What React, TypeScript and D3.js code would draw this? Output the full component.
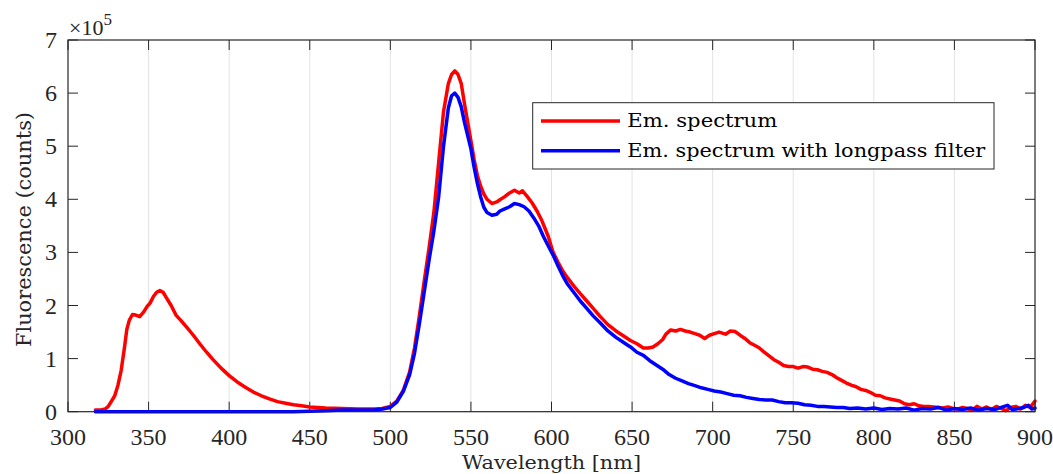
import React from "react";
import * as d3 from "d3";

// Emission spectrum (units of 1e5 counts)
const redWavelength = [
  317, 320, 323, 325, 327, 329, 331, 333, 335, 336.5, 338, 340, 342, 344.5, 347, 349, 351, 353, 355, 357,
  359, 361, 364, 367, 370, 374, 378, 382, 386, 390, 395, 400, 405, 410, 415, 420, 425, 430, 435, 440,
  445, 450, 455, 460, 470, 480, 490, 495, 500, 504, 508, 512, 515, 518, 521, 524, 527, 530, 533, 536,
  538, 540, 542, 544, 546, 548, 550, 552, 554, 556, 558, 560, 563, 566, 568, 571, 574, 577, 580, 582,
  585, 588, 591, 594, 596, 598, 601, 604, 607, 610, 614, 618, 622, 626, 630, 635, 640, 645, 649, 653,
  657, 660, 663, 666, 669, 671, 674, 677, 680, 683, 686, 689, 692, 695, 698, 701, 704, 708, 711, 714,
  717, 720, 723, 726, 729, 732, 735, 738, 741, 744, 747, 750, 753, 756, 759, 762, 765, 768, 771, 774,
  777, 780, 783, 786, 789, 792, 795, 798, 801, 804, 807, 810, 813, 816, 819, 822, 825, 828, 831, 834,
  837, 840, 843, 846, 849, 852, 855, 858, 861, 864, 867, 870, 873, 876, 879, 882, 885, 888, 891, 894,
  897, 900,
];
const redCounts = [
  0.03, 0.03, 0.05, 0.1, 0.2, 0.3, 0.5, 0.78, 1.2, 1.55, 1.72, 1.83, 1.82, 1.79, 1.88, 1.98, 2.05, 2.17, 2.25, 2.28,
  2.25, 2.15, 2.0, 1.82, 1.72, 1.58, 1.43, 1.27, 1.12, 0.98, 0.82, 0.68, 0.56, 0.46, 0.37, 0.3, 0.24, 0.19, 0.16, 0.13,
  0.11, 0.09, 0.08, 0.07, 0.06, 0.05, 0.05, 0.06, 0.1, 0.2, 0.4, 0.75, 1.2, 1.8, 2.45, 3.08, 3.75, 4.7, 5.65, 6.18,
  6.35, 6.42, 6.35, 6.18, 5.8, 5.45, 5.1, 4.75, 4.45, 4.25, 4.1, 4.0, 3.92, 3.95, 3.99, 4.05, 4.12, 4.17, 4.12, 4.16,
  4.05, 3.93, 3.78, 3.6, 3.45, 3.3, 3.0, 2.82, 2.65, 2.52, 2.36, 2.22, 2.08, 1.94, 1.8, 1.64, 1.52, 1.42, 1.34, 1.28,
  1.2, 1.2, 1.22, 1.28, 1.36, 1.46, 1.54, 1.52, 1.55, 1.52, 1.5, 1.47, 1.44, 1.38, 1.44, 1.47, 1.5, 1.46, 1.52, 1.51,
  1.44, 1.38, 1.3, 1.25, 1.2, 1.12, 1.05, 0.98, 0.93, 0.87, 0.85, 0.85, 0.82, 0.85, 0.84, 0.8, 0.79, 0.76, 0.74, 0.7,
  0.64, 0.59, 0.54, 0.5, 0.47, 0.42, 0.4, 0.36, 0.31, 0.3, 0.26, 0.24, 0.22, 0.2, 0.15, 0.13, 0.15, 0.11, 0.1, 0.1,
  0.09, 0.08, 0.07, 0.09, 0.06, 0.05, 0.08, 0.06, 0.03, 0.1, 0.05, 0.09, 0.04, 0.1, 0.06, 0.02, 0.08, 0.1, 0.05, 0.12,
  0.08, 0.2,
];

// Emission spectrum with longpass filter (units of 1e5 counts)
const blueWavelength = [
  317, 330, 350, 380, 410, 440, 450, 460, 470, 480, 490, 495, 500, 504, 508, 512, 515, 518, 521, 524,
  527, 530, 533, 536, 538, 540, 542, 544, 546, 548, 550, 552, 554, 556, 558, 560, 563, 566, 568, 571,
  574, 577, 580, 583, 586, 589, 592, 595, 598, 601, 604, 607, 610, 614, 618, 622, 626, 630, 635, 640,
  645, 649, 653, 657, 661, 665, 669, 673, 677, 681, 685, 689, 693, 697, 701, 705, 709, 713, 717, 721,
  725, 729, 733, 737, 741, 745, 749, 753, 757, 761, 765, 769, 773, 777, 781, 785, 790, 795, 800, 805,
  810, 815, 820, 825, 830, 835, 840, 845, 850, 855, 860, 865, 870, 875, 880, 883, 886, 890, 893, 896,
  898, 900,
];
const blueCounts = [
  0, 0, 0, 0, 0, 0, 0.01, 0.02, 0.03, 0.03, 0.03, 0.05, 0.08, 0.18, 0.38, 0.7, 1.1, 1.65, 2.25, 2.85,
  3.4, 4.05, 5.0, 5.72, 5.95, 6.0, 5.92, 5.74, 5.45, 5.2, 4.95, 4.6, 4.3, 4.05, 3.85, 3.75, 3.7, 3.72, 3.78, 3.82,
  3.86, 3.92, 3.9, 3.86, 3.78, 3.65, 3.5, 3.3, 3.12, 2.95, 2.75, 2.56, 2.4, 2.24, 2.08, 1.94, 1.8, 1.68, 1.52, 1.4,
  1.3, 1.22, 1.12, 1.06, 0.96, 0.88, 0.8, 0.7, 0.63, 0.58, 0.53, 0.49, 0.45, 0.42, 0.39, 0.37, 0.34, 0.31, 0.3, 0.27,
  0.25, 0.23, 0.22, 0.22, 0.19, 0.17, 0.17, 0.16, 0.13, 0.12, 0.1, 0.1, 0.09, 0.08, 0.08, 0.06, 0.07, 0.05, 0.07, 0.04,
  0.06, 0.05, 0.07, 0.03, 0.06, 0.05, 0.08, 0.03, 0.06, 0.04, 0.07, 0.03, 0.06, 0.04, 0.09, 0.12, 0.04, 0.06, 0.08, 0.12,
  0.05, 0.07,
];

const xTicks = [300, 350, 400, 450, 500, 550, 600, 650, 700, 750, 800, 850, 900];
const yTicks = [0, 1, 2, 3, 4, 5, 6, 7];
const seriesNames = ["Em. spectrum", "Em. spectrum with longpass filter"];
const seriesColors = ["#ff0000", "#0000ff"];

const W = 1053;
const H = 474;
const L = 68;
const R = 1035;
const T = 40;
const B = 411.7;
const AX = "#262626";
const TICK_FONT = "'Liberation Serif', 'Times New Roman', serif";
const LABEL_FONT = "'DejaVu Serif', 'Liberation Serif', serif";

export default function App() {
  const x = d3.scaleLinear().domain([300, 900]).range([L, R]);
  const y = d3.scaleLinear().domain([0, 7]).range([B, T]);
  const line = d3
    .line<[number, number]>()
    .x((d) => x(d[0]))
    .y((d) => y(d[1]));
  const redPts = redWavelength.map((w, i) => [w, redCounts[i]] as [number, number]);
  const bluePts = blueWavelength.map((w, i) => [w, blueCounts[i]] as [number, number]);
  const tickLen = 10;

  const lgX = 532.7;
  const lgY = 102.7;
  const lgW = 461.3;
  const lgH = 66.3;

  return (
    <svg
      width={W}
      height={H}
      style={{ position: "absolute", left: 0, top: 0, display: "block", background: "#fff" }}
    >
      <rect x={0} y={0} width={W} height={H} fill="#fff" />
      {/* vertical grid */}
      {xTicks.slice(1, -1).map((t) => (
        <line key={"g" + t} x1={x(t)} x2={x(t)} y1={T} y2={B} stroke="#e3e3e3" strokeWidth={1} />
      ))}
      {/* ticks */}
      {xTicks.map((t) => (
        <g key={"xt" + t}>
          <line x1={x(t)} x2={x(t)} y1={B} y2={B - tickLen} stroke={AX} strokeWidth={1} />
          <line x1={x(t)} x2={x(t)} y1={T} y2={T + tickLen} stroke={AX} strokeWidth={1} />
          <text
            x={x(t)}
            y={445}
            textAnchor="middle"
            fontFamily={TICK_FONT}
            fontSize={24}
            fill={AX}
          >
            {t}
          </text>
        </g>
      ))}
      {yTicks.map((t) => (
        <g key={"yt" + t}>
          <line x1={L} x2={L + tickLen} y1={y(t)} y2={y(t)} stroke={AX} strokeWidth={1} />
          <line x1={R} x2={R - tickLen} y1={y(t)} y2={y(t)} stroke={AX} strokeWidth={1} />
          <text
            x={57}
            y={y(t) + 8}
            textAnchor="end"
            fontFamily={TICK_FONT}
            fontSize={24}
            fill={AX}
          >
            {t}
          </text>
        </g>
      ))}
      {/* exponent */}
      <text x={69} y={35} fontFamily={TICK_FONT} fontSize={22} fill={AX}>
        ×10
        <tspan fontSize={17} dy={-10}>
          5
        </tspan>
      </text>
      {/* data */}
      <path d={line(redPts) || ""} fill="none" stroke={seriesColors[0]} strokeWidth={3.5} strokeLinejoin="round" strokeLinecap="round" />
      <path d={line(bluePts) || ""} fill="none" stroke={seriesColors[1]} strokeWidth={3.5} strokeLinejoin="round" strokeLinecap="round" />
      {/* axes box */}
      <rect x={L} y={T} width={R - L} height={B - T} fill="none" stroke={AX} strokeWidth={1.2} />
      {/* axis labels */}
      <text
        x={(L + R) / 2}
        y={469}
        textAnchor="middle"
        fontFamily={LABEL_FONT}
        fontSize={19}
        fill={AX}
        textLength={179}
        lengthAdjust="spacingAndGlyphs"
      >
        Wavelength [nm]
      </text>
      <text
        transform={`translate(31, 229.5) rotate(-90)`}
        textAnchor="middle"
        fontFamily={LABEL_FONT}
        fontSize={20}
        fill={AX}
        textLength={235}
        lengthAdjust="spacingAndGlyphs"
      >
        Fluorescence (counts)
      </text>
      {/* legend */}
      <rect x={lgX} y={lgY} width={lgW} height={lgH} fill="#fff" stroke={AX} strokeWidth={1} />
      {seriesNames.map((name, i) => {
        const ry = i === 0 ? 121 : 150.7;
        return (
          <g key={name}>
            <line x1={541} x2={620} y1={ry} y2={ry} stroke={seriesColors[i]} strokeWidth={3.5} />
            <text
              x={627.3}
              y={ry + 6.3}
              fontFamily={LABEL_FONT}
              fontSize={19}
              fill="#000"
              textLength={i === 0 ? 150 : 358}
              lengthAdjust="spacingAndGlyphs"
            >
              {name}
            </text>
          </g>
        );
      })}
    </svg>
  );
}
